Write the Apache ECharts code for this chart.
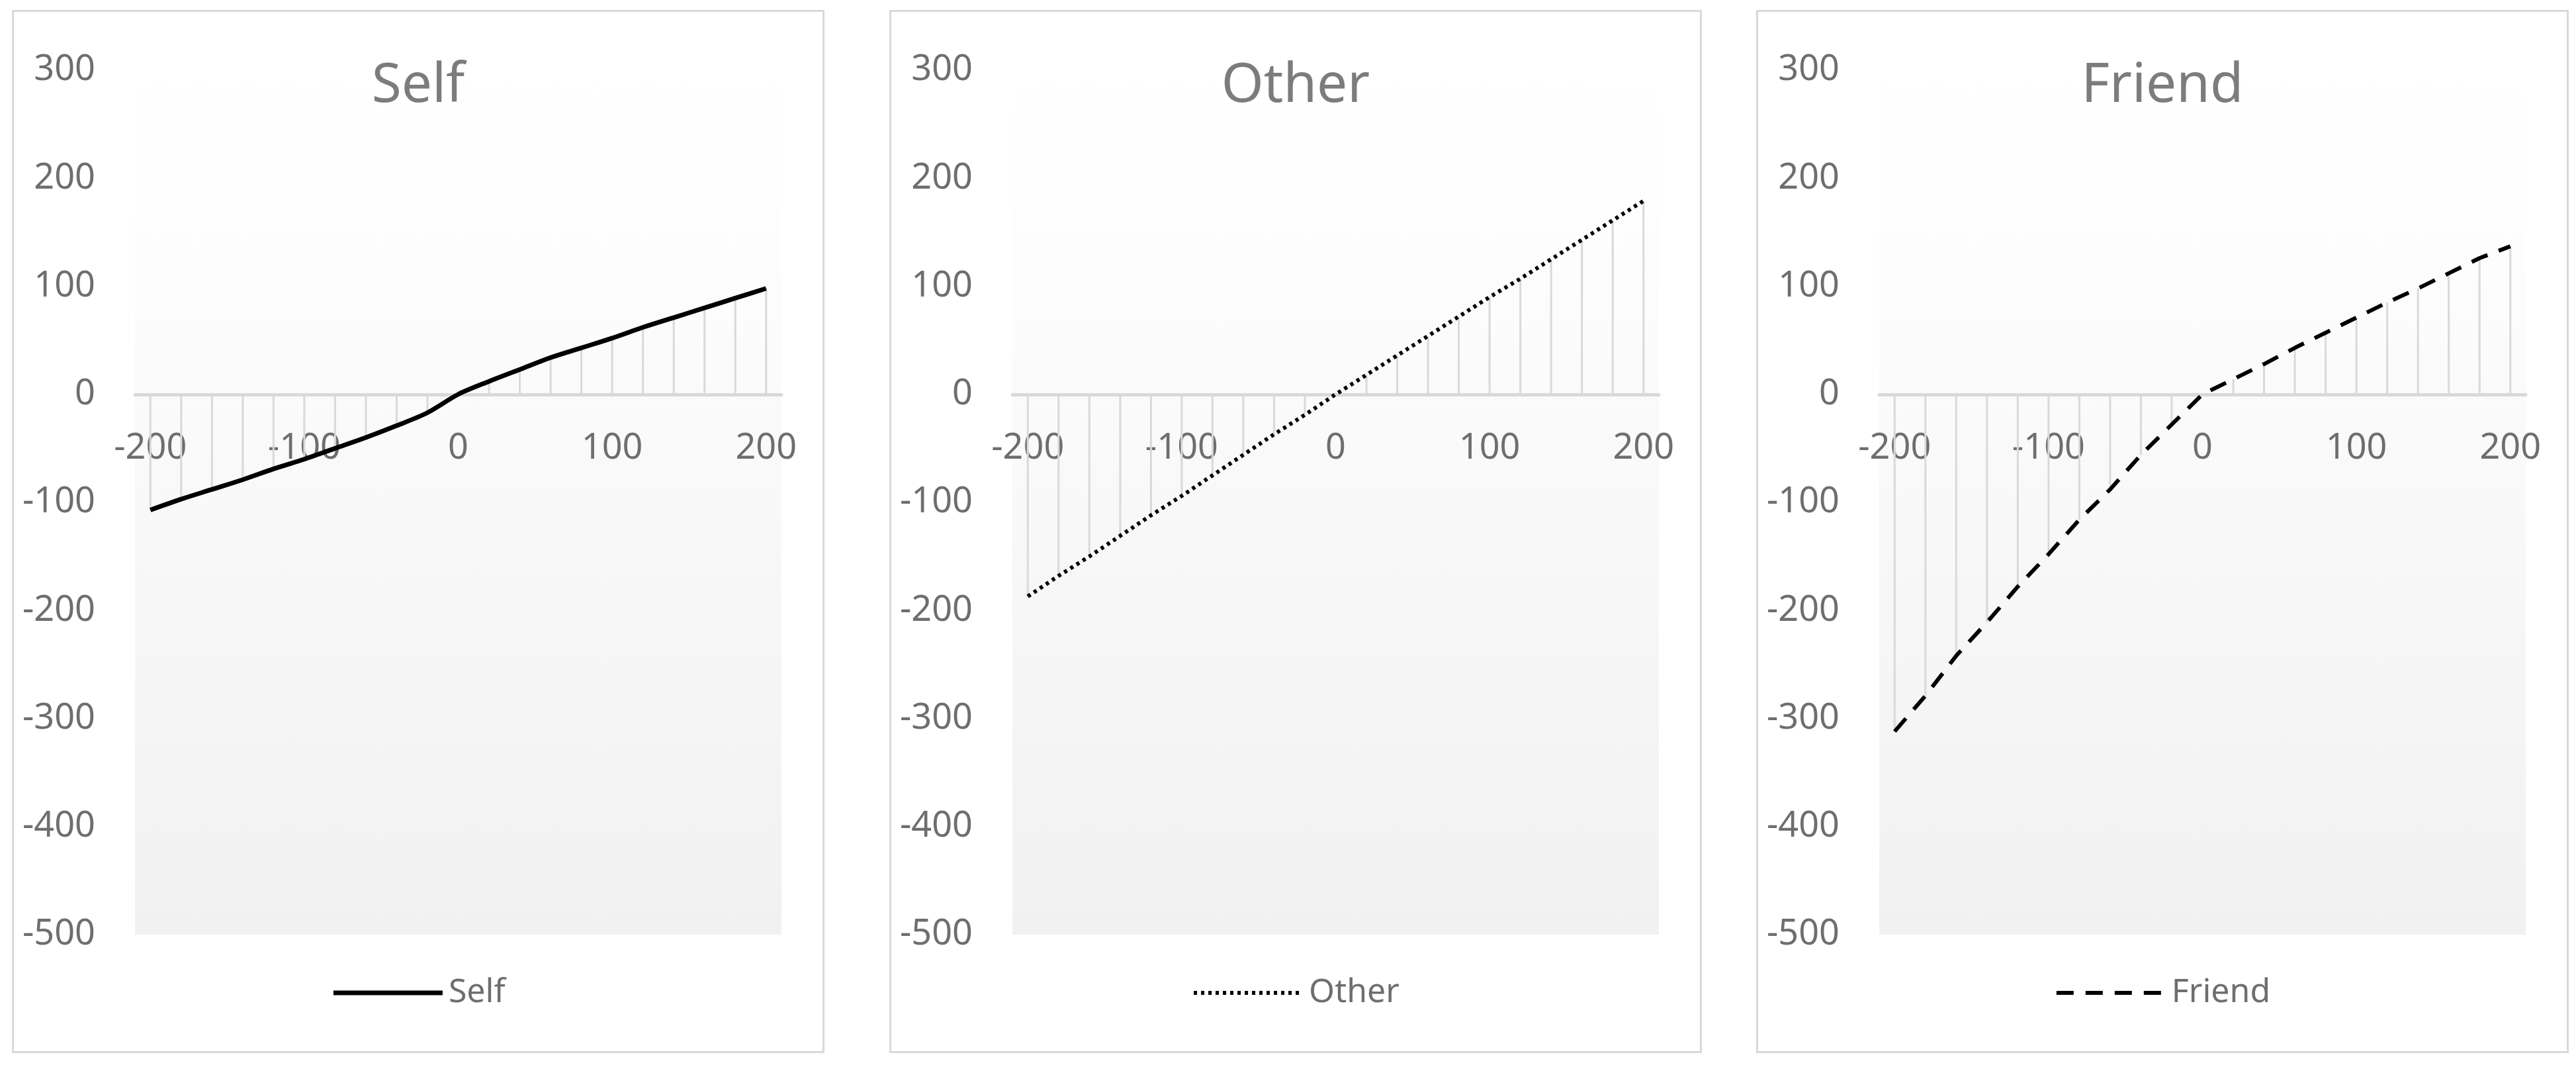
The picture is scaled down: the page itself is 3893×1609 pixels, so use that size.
<!DOCTYPE html>
<html>
<head>
<meta charset="utf-8">
<script src="https://cdn.jsdelivr.net/npm/echarts@6/dist/echarts.min.js"></script>
<style>
  html, body { margin: 0; padding: 0; background: #fff; }
  body { width: 3893px; height: 1609px; position: relative; overflow: hidden; }
  .panel { position: absolute; top: 15px; width: 1222px; height: 1570px; border: 3px solid #d9d9d9; background: #fff; }
</style>
</head>
<body>
<div class="panel" id="p1" style="left:18px"></div>
<div class="panel" id="p2" style="left:1344px"></div>
<div class="panel" id="p3" style="left:2654px"></div>
<script>
// x categories (-200 .. 200, step 20)
var cats = ["-200","-180","-160","-140","-120","-100","-80","-60","-40","-20","0",
            "20","40","60","80","100","120","140","160","180","200"];
// values
var self   = [-107,-97,-88,-79,-69,-60,-50,-40,-29,-17,0,12,23,34,43,52,62,71,80,89,98];
var other  = [-187,-168,-150,-131,-112,-94,-75,-56,-37,-19,0,18,36,54,72,90,107,125,143,161,179];
var friend = [-312,-279,-242,-211,-178,-148,-116,-88,-56,-28,0,14,28,43,57,71,85,98,112,126,137];
// y axis ticks
var yMin = -500, yMax = 300, yStep = 100;

var textGrey = '#6e6e6e';
var titleGrey = '#7c7c7c';
var font = 'Noto Sans';
var gridH = 1306;
// the category axis sits on y = 0, labels go with it
var zeroOffset = -gridH * (0 - yMin) / (yMax - yMin);

function makePanel(id, name, values, lineType, lineWidth, smooth) {
    var chart = echarts.init(document.getElementById(id));
    var option = {
        animation: false,
        title: {
            text: name,
            left: 'center',
            top: 67,
            textStyle: { color: titleGrey, fontSize: 82, fontWeight: 'normal', fontFamily: font }
        },
        legend: {
            data: [name],
            bottom: 58,
            left: 'center',
            itemWidth: 165,
            itemHeight: 20,
            itemStyle: { opacity: 0 },
            lineStyle: { width: lineWidth },
            textStyle: { color: textGrey, fontSize: 50, fontFamily: font, padding: [0, 0, 0, 4] }
        },
        grid: {
            left: 183, top: 88, width: 977, height: gridH,
            show: true,
            borderWidth: 0,
            backgroundColor: {
                type: 'linear', x: 0, y: 0, x2: 0, y2: 1,
                colorStops: [
                    { offset: 0, color: '#ffffff' },
                    { offset: 0.15, color: '#fefefe' },
                    { offset: 1, color: '#f1f1f1' }
                ]
            }
        },
        xAxis: {
            type: 'category',
            data: cats,
            boundaryGap: true,
            offset: zeroOffset,
            axisLine: { onZero: false, lineStyle: { color: '#d9d9d9', width: 5 } },
            axisTick: { show: false },
            splitLine: { show: false },
            axisLabel: { interval: 4, color: textGrey, fontSize: 54, fontFamily: font, margin: 55 }
        },
        yAxis: {
            type: 'value',
            min: yMin, max: yMax, interval: yStep,
            axisLine: { show: false },
            axisTick: { show: false },
            splitLine: { show: false },
            axisLabel: { color: textGrey, fontSize: 54, fontFamily: font, margin: 60 }
        },
        series: [
            {
                // drop lines from each point to the zero line
                name: 'drop',
                type: 'bar',
                data: values,
                barWidth: 3,
                silent: true,
                itemStyle: { color: '#d9d9d9' },
                z: 1
            },
            {
                name: name,
                type: 'line',
                data: values,
                symbol: 'none',
                smooth: smooth,
                lineStyle: { color: '#000000', width: lineWidth, type: lineType },
                itemStyle: { color: '#000000' },
                z: 3
            }
        ]
    };
    chart.setOption(option);
}

makePanel('p1', 'Self', self, 'solid', 7, 0.3);
makePanel('p2', 'Other', other, [5, 6], 6, false);
makePanel('p3', 'Friend', friend, [26, 18], 6, false);
</script>
</body>
</html>
